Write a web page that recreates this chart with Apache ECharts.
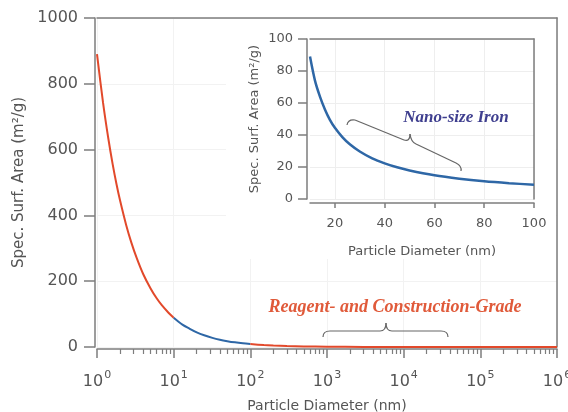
<!DOCTYPE html>
<html>
<head>
<meta charset="utf-8">
<script src="https://cdn.jsdelivr.net/npm/echarts@6/dist/echarts.min.js"></script>
<style>
  html, body { margin: 0; padding: 0; background: #fff; }
  #chart { width: 568px; height: 412px; }
</style>
</head>
<body>
<div id="chart"></div>
<script>
// main curve, split by colour: fine (red), nano (blue), coarse (red)
const fineDiam = [1, 1.2, 1.4, 1.6, 1.8, 2, 2.4, 2.8, 3.3, 4, 5, 6, 7, 8.5, 10];
const fineArea = [890, 742, 636, 556, 494, 445, 371, 318, 270, 222, 178, 148, 127, 105, 89];
const nanoDiam = [10, 13, 16, 20, 25, 32, 40, 50, 63, 80, 100];
const nanoArea = [89, 68, 56, 44.5, 35.6, 27.8, 22.2, 17.8, 14.1, 11.1, 8.9];
const coarseDiam = [100, 150, 200, 300, 500, 1000, 3000, 10000, 100000, 1000000];
const coarseArea = [8.9, 5.9, 4.5, 3, 1.8, 0.9, 0.3, 0.09, 0.009, 0.0009];

// inset (linear axes)
const insetDiam = [10, 12, 14, 16, 18, 20, 23, 26, 30, 35, 40, 45, 50, 60, 70, 80, 90, 100];
const insetArea = [89, 74, 64, 56, 49.5, 44.5, 38.7, 34.2, 29.7, 25.4, 22.3, 19.8, 17.8, 14.8, 12.7, 11.1, 9.9, 8.9];

// tick values
const mainYTicks = [0, 200, 400, 600, 800, 1000];
const minorXTicks = [2, 3, 4, 5, 6, 7, 8, 9, 20, 30, 40, 50, 60, 70, 80, 90,
  200, 300, 400, 500, 600, 700, 800, 900, 2000, 3000, 4000, 5000, 6000, 7000, 8000, 9000,
  20000, 30000, 40000, 50000, 60000, 70000, 80000, 90000,
  200000, 300000, 400000, 500000, 600000, 700000, 800000, 900000];
const insetXTicks = [20, 40, 60, 80, 100];
const insetYTicks = [0, 20, 40, 60, 80, 100];

const RED = "#e2492b";
const BLUE = "#2e67a6";
const AXIS = "#7d7d7d";
const TEXT = "#555";
const FONT = "DejaVu Sans";

const chart = echarts.init(document.getElementById("chart"), null, { renderer: "canvas" });

const pairs = (xs, ys) => xs.map((x, i) => [x, ys[i]]);

const frameAxis = (extra) => Object.assign({
  axisLine: { show: true, onZero: false, lineStyle: { color: AXIS, width: 1.5 } },
  axisTick: { show: false },
  axisLabel: { show: false },
  splitLine: { show: false },
}, extra);

// curly brace drawn from line / quadratic pieces: [x1,y1,x2,y2] or [x1,y1,cx,cy,x2,y2]
function brace(pieces) {
  return pieces.map((p) => {
    const style = { fill: "none", stroke: "#666", lineWidth: 1.2 };
    if (p.length === 4) {
      return { type: "line", z: 10, shape: { x1: p[0], y1: p[1], x2: p[2], y2: p[3] }, style };
    }
    return {
      type: "bezierCurve", z: 10,
      shape: { x1: p[0], y1: p[1], cpx1: p[2], cpy1: p[3], x2: p[4], y2: p[5] },
      style,
    };
  });
}

const option = {
  animation: false,
  backgroundColor: "#fff",
  grid: [
    { left: 97, right: 11, top: 18, bottom: 65, outerBoundsMode: "none", containLabel: false },
    { left: 310, right: 34, top: 39, bottom: 213, outerBoundsMode: "none", containLabel: false },
  ],
  xAxis: [
    {
      // main bottom axis, decades
      gridIndex: 0,
      type: "log",
      logBase: 10,
      min: 1,
      max: 1000000,
      position: "bottom",
      offset: 2,
      axisLine: { onZero: false, lineStyle: { color: AXIS, width: 1.5 } },
      axisTick: { inside: false, length: 9, lineStyle: { color: AXIS, width: 1.5 } },
      axisLabel: {
        margin: 21,
        color: TEXT,
        formatter: function (value) {
          const exp = Math.round(Math.log10(value));
          return "{b|10}{s|" + exp + "}";
        },
        rich: {
          b: { fontSize: 16, fontFamily: FONT, color: TEXT },
          s: { fontSize: 11, fontFamily: FONT, color: TEXT, padding: [0, 0, 12, 1] },
        },
      },
      splitLine: { show: true, lineStyle: { color: "#f2f2f2" } },
      name: "Particle Diameter (nm)",
      nameLocation: "middle",
      nameGap: 50,
      nameTextStyle: { fontSize: 14, fontFamily: FONT, color: TEXT },
    },
    {
      // main bottom axis, minor ticks
      gridIndex: 0,
      type: "log",
      logBase: 10,
      min: 1,
      max: 1000000,
      position: "bottom",
      offset: 2,
      axisLine: { show: false, onZero: false },
      axisTick: { inside: false, length: 5, customValues: minorXTicks, lineStyle: { color: AXIS, width: 1.2 } },
      axisLabel: { show: false },
      splitLine: { show: false },
    },
    frameAxis({ gridIndex: 0, type: "log", min: 1, max: 1000000, position: "top" }),
    {
      // inset bottom axis
      gridIndex: 1,
      type: "value",
      min: 10,
      max: 100,
      position: "bottom",
      offset: 4,
      z: 5,
      axisLine: { onZero: false, lineStyle: { color: AXIS, width: 1.5 } },
      axisTick: { length: 5, customValues: insetXTicks, lineStyle: { color: AXIS, width: 1.5 } },
      axisLabel: {
        customValues: insetXTicks,
        margin: 14,
        fontSize: 13,
        fontFamily: FONT,
        color: TEXT,
      },
      splitLine: { show: true, lineStyle: { color: "#eeeeee" } },
      name: "Particle Diameter (nm)",
      nameLocation: "middle",
      nameGap: 42,
      nameTextStyle: { fontSize: 13, fontFamily: FONT, color: TEXT },
    },
    frameAxis({ gridIndex: 1, type: "value", min: 10, max: 100, position: "top", z: 5 }),
  ],
  yAxis: [
    {
      gridIndex: 0,
      type: "value",
      min: 0,
      max: 1000,
      interval: 200,
      position: "left",
      offset: 2,
      axisLine: { show: true, onZero: false, lineStyle: { color: AXIS, width: 1.5 } },
      axisTick: { show: true, length: 11, lineStyle: { color: AXIS, width: 1.5 } },
      axisLabel: {
        customValues: mainYTicks,
        formatter: (v) => String(v),
        margin: 17,
        fontSize: 16,
        fontFamily: FONT,
        color: TEXT,
      },
      splitLine: { show: true, lineStyle: { color: "#f2f2f2" } },
      name: "Spec. Surf. Area (m²/g)",
      nameLocation: "middle",
      nameGap: 54,
      nameTextStyle: { fontSize: 15, fontFamily: FONT, color: TEXT },
    },
    frameAxis({ gridIndex: 0, type: "value", min: 0, max: 1000, position: "right" }),
    {
      gridIndex: 1,
      type: "value",
      min: 0,
      max: 100,
      interval: 20,
      position: "left",
      offset: 3,
      z: 5,
      axisLine: { show: true, onZero: false, lineStyle: { color: AXIS, width: 1.5 } },
      axisTick: { show: true, length: 9, lineStyle: { color: AXIS, width: 1.5 } },
      axisLabel: {
        customValues: insetYTicks,
        margin: 14,
        fontSize: 13,
        fontFamily: FONT,
        color: TEXT,
      },
      splitLine: { show: true, lineStyle: { color: "#eeeeee" } },
      name: "Spec. Surf. Area (m²/g)",
      nameLocation: "middle",
      nameGap: 46,
      nameTextStyle: { fontSize: 13, fontFamily: FONT, color: TEXT },
    },
    frameAxis({ gridIndex: 1, type: "value", min: 0, max: 100, position: "right", z: 5 }),
  ],
  graphic: [
    {
      // white panel behind the inset
      type: "rect",
      z: 1,
      shape: { x: 226, y: 19, width: 330, height: 240 },
      style: { fill: "#fff" },
    },
    {
      type: "text",
      z: 10,
      style: {
        x: 456, y: 118,
        text: "Nano-size Iron",
        align: "center",
        verticalAlign: "middle",
        font: "italic bold 17px 'Liberation Serif'",
        fill: "#3f3f8f",
      },
    },
    {
      type: "text",
      z: 10,
      style: {
        x: 395, y: 307,
        text: "Reagent- and Construction-Grade",
        align: "center",
        verticalAlign: "middle",
        font: "italic bold 18px 'Liberation Serif'",
        fill: "#e05a3a",
      },
    },
  ].concat(
    brace([
      [347, 125, 348, 119, 355, 120],
      [355, 120, 404, 140],
      [404, 140, 410, 142, 410, 134],
      [410, 134, 411, 142, 416, 144],
      [416, 144, 456, 163],
      [456, 163, 462, 166, 461, 171],
    ]),
    brace([
      [323, 337, 323, 331, 330, 331],
      [330, 331, 380, 331],
      [380, 331, 386, 331, 386, 323],
      [386, 323, 386, 331, 392, 331],
      [392, 331, 441, 331],
      [441, 331, 448, 331, 448, 337],
    ])
  ),
  series: [
    {
      name: "fine",
      type: "line",
      xAxisIndex: 0,
      yAxisIndex: 0,
      data: pairs(fineDiam, fineArea),
      showSymbol: false,
      smooth: 0.3,
      lineStyle: { color: RED, width: 2 },
    },
    {
      name: "nano",
      type: "line",
      xAxisIndex: 0,
      yAxisIndex: 0,
      data: pairs(nanoDiam, nanoArea),
      showSymbol: false,
      smooth: 0.3,
      lineStyle: { color: BLUE, width: 2 },
    },
    {
      name: "coarse",
      type: "line",
      xAxisIndex: 0,
      yAxisIndex: 0,
      data: pairs(coarseDiam, coarseArea),
      showSymbol: false,
      smooth: 0.3,
      lineStyle: { color: RED, width: 2 },
    },
    {
      name: "inset",
      type: "line",
      xAxisIndex: 3,
      yAxisIndex: 2,
      z: 6,
      data: pairs(insetDiam, insetArea),
      showSymbol: false,
      smooth: 0.3,
      lineStyle: { color: BLUE, width: 2.5 },
    },
  ],
};

chart.setOption(option);
</script>
</body>
</html>
